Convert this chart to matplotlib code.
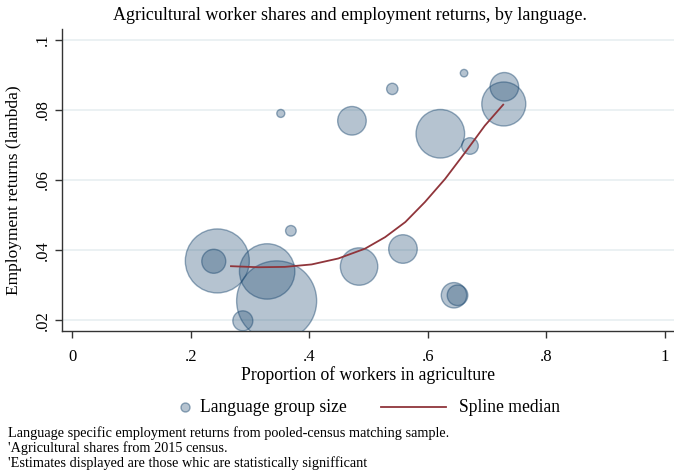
import numpy as np
import matplotlib
matplotlib.use('Agg')
import matplotlib.pyplot as plt
from matplotlib.lines import Line2D

plt.rcParams['font.family'] = ['Liberation Serif', 'DejaVu Serif']

# language groups: share in agriculture, employment return, group size (area units)
ag_share = [0.352, 0.472, 0.540, 0.661, 0.729, 0.728, 0.621, 0.671, 0.369,
            0.245, 0.239, 0.329, 0.345, 0.288, 0.484, 0.558, 0.644, 0.650]
emp_return = [0.0790, 0.0769, 0.0860, 0.0905, 0.0866, 0.0817, 0.0732, 0.0697, 0.0455,
              0.0369, 0.0368, 0.0339, 0.0255, 0.0198, 0.0353, 0.0403, 0.0271, 0.0271]
group_size = [16, 204, 32, 14, 204, 484, 590, 69, 28,
              1024, 144, 767, 1600, 100, 350, 204, 161, 106]

# spline median
spline_x = [0.268, 0.314, 0.359, 0.404, 0.449, 0.494, 0.528, 0.562,
            0.595, 0.629, 0.663, 0.696, 0.727]
spline_y = [0.0354, 0.0351, 0.0352, 0.0359, 0.0376, 0.0404, 0.0437, 0.0480,
            0.0537, 0.0603, 0.0679, 0.0755, 0.0815]

xticks = [0, 0.2, 0.4, 0.6, 0.8, 1]
xtick_labels = ['0', '.2', '.4', '.6', '.8', '1']
yticks = [0.02, 0.04, 0.06, 0.08, 0.1]
ytick_labels = ['.02', '.04', '.06', '.08', '.1']

navy = (0.102, 0.278, 0.435)
fill = navy + (0.32,)
edge = navy + (0.45,)
maroon = '#90353b'
W, H = 674, 473

fig = plt.figure(figsize=(W / 100, H / 100), dpi=100)
ax = fig.add_axes([62 / W, 142 / H, 612 / W, 302 / H])

sizes = np.array(group_size) * (1.44 ** 2)
ax.scatter(ag_share, emp_return, s=sizes, facecolor=fill, edgecolor=edge,
           linewidth=1.0, zorder=3)
ax.plot(spline_x, spline_y, color=maroon, lw=1.3, zorder=4)

ax.set_xlim(-0.0169, 1.015)
ax.set_ylim(0.0169, 0.1031)
ax.set_xticks(xticks)
ax.set_xticklabels(xtick_labels)
ax.set_yticks(yticks)
ax.set_yticklabels(ytick_labels, rotation=90, va='center')
ax.tick_params(direction='out', length=5, width=1, colors='#333333', labelsize=12,
               labelcolor='black')
ax.tick_params(axis='x', pad=8)
ax.tick_params(axis='y', pad=3)
ax.yaxis.grid(True, color='#e8eff1', lw=1.2)
ax.set_axisbelow(True)
for s in ['top', 'right']:
    ax.spines[s].set_visible(False)
for s in ['left', 'bottom']:
    ax.spines[s].set_color('#333333')
    ax.spines[s].set_linewidth(1)

ax.set_xlabel('Proportion of workers in agriculture', fontsize=12.7, labelpad=1)
ax.set_ylabel('Employment returns (lambda)', fontsize=12.5)
ax.yaxis.set_label_coords(-40 / 612, (331 - 190) / 302)
fig.text(350 / W, 1 - 15.5 / H,
         'Agricultural worker shares and employment returns, by language.',
         ha='center', va='center', fontsize=13)

# legend drawn by hand in figure pixels
ly = 1 - 407 / H
fig.add_artist(Line2D([185 / W], [ly], marker='o', ls='none', markersize=6.5,
                      markerfacecolor=fill, markeredgecolor=edge))
fig.text(200 / W, ly, 'Language group size', ha='left', va='center', fontsize=12.7)
fig.add_artist(Line2D([381 / W, 446 / W], [ly, ly], color=maroon, lw=1.3))
fig.text(459 / W, ly, 'Spline median', ha='left', va='center', fontsize=12.7)

notes = ['Language specific employment returns from pooled-census matching sample.',
         "'Agricultural shares from 2015 census.",
         "'Estimates displayed are those whic are statistically signifficant"]
for i, n in enumerate(notes):
    fig.text(8 / W, 1 - (433 + 15 * i) / H, n, ha='left', va='center', fontsize=10.3)

fig.savefig('out.png', dpi=100)
